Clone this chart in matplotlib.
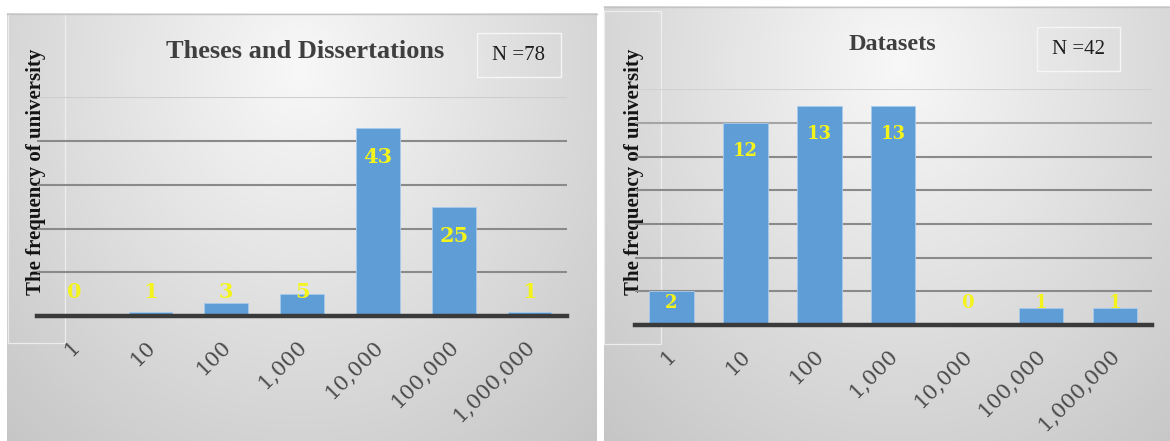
import numpy as np
import matplotlib
matplotlib.use("Agg")
import matplotlib.pyplot as plt
from matplotlib.patches import Rectangle
from matplotlib.transforms import ScaledTranslation

# ---- data -------------------------------------------------------------
size_labels = ["1", "10", "100", "1,000", "10,000", "100,000", "1,000,000"]
theses_counts = [0, 1, 3, 5, 43, 25, 1]
dataset_counts = [2, 12, 13, 13, 0, 1, 1]
theses_title = "Theses and Dissertations"
datasets_title = "Datasets"
theses_n = 78
datasets_n = 42
ylabel_text = "The frequency of university"

# ---- canvas -----------------------------------------------------------
W, H, DPI = 1170, 441, 100
fig = plt.figure(figsize=(W / DPI, H / DPI), dpi=DPI)
fig.patch.set_facecolor("white")

SERIF = ["Liberation Serif", "DejaVu Serif"]
WIDE_SERIF = ["DejaVu Serif"]
BAR_COLOR = "#5f9dd6"
LABEL_YELLOW = "#f4f41c"
TEXT_GRAY = "#3f3f3f"


def px_rect(x0, y0, x1, y1):
    """Pixel box (origin top-left) -> figure-fraction rect."""
    return [x0 / W, 1 - y1 / H, (x1 - x0) / W, (y1 - y0) / H]


# backdrop layer in pixel coordinates
bg = fig.add_axes([0, 0, 1, 1], zorder=0)
bg.axis("off")


def gradient_panel(x0, y0, x1, y1, cx, cy):
    xs = np.arange(x0, x1) + 0.5
    ys = np.arange(y0, y1) + 0.5
    X, Y = np.meshgrid(xs, ys)
    d = np.hypot((X - cx) / 350.0, (Y - cy) / 400.0)
    v = (248 - 52 * np.clip(d / 1.3, 0, 1)) / 255.0
    bg.imshow(np.dstack([v, v, v]), extent=(x0, x1, y1, y0),
              interpolation="bilinear", aspect="auto")
    bg.plot([x0, x1], [y0 + 0.5, y0 + 0.5], color="#c4c4c4", lw=1.0)


gradient_panel(7, 13, 597, 441, 300, 70)
gradient_panel(604, 6, 1170, 441, 900, 65)

# faint outline boxes at the left of each panel
bg.add_patch(Rectangle((7.5, 13.5), 57, 329, fill=False, ec="#f2f2f2", lw=0.9, alpha=0.85))
bg.add_patch(Rectangle((603.5, 10.5), 57, 333, fill=False, ec="#f2f2f2", lw=0.9, alpha=0.85))

bg.set_xlim(0, W)
bg.set_ylim(H, 0)

shift_right = ScaledTranslation(2 / DPI, 0, fig.dpi_scale_trans)


def draw_chart(rect_px, counts, ymax, step, bar_w, lab_off, lab_min,
               lab_size, title, title_xy, title_size, n, nbox, ylab_xy):
    ax = fig.add_axes(px_rect(*rect_px), zorder=2)
    ax.set_facecolor("none")
    x = np.arange(len(counts))
    ax.set_xlim(-0.5, len(counts) - 0.5)
    ax.set_ylim(0, ymax)

    # horizontal gridlines, lighter toward the top of the panel
    for v in np.arange(step, ymax + 0.01, step):
        ypix = H - ax.transData.transform((0, v))[1]
        g = 0.54 + 0.28 * np.clip((140 - ypix) / 45.0, 0, 1)
        ax.axhline(v, color=(g, g, g), lw=1.5, zorder=1)

    ax.bar(x, counts, width=bar_w, color=BAR_COLOR, edgecolor="#a8cbec",
           linewidth=0.6, zorder=2)

    for xi, v in zip(x, counts):
        ax.text(xi, max(v - lab_off, lab_min), str(v), ha="center", va="center",
                color=LABEL_YELLOW, fontsize=lab_size, fontweight="bold",
                family=WIDE_SERIF, zorder=4)

    for s in ("top", "right", "left"):
        ax.spines[s].set_visible(False)
    ax.spines["bottom"].set_color("#3a3a3a")
    ax.spines["bottom"].set_linewidth(3.2)
    ax.spines["bottom"].set_zorder(3)
    ax.set_yticks([])
    ax.set_xticks(x)
    ax.set_xticklabels(size_labels)
    ax.tick_params(axis="x", length=0, pad=20)
    for lab in ax.get_xticklabels():
        lab.set_rotation(45)
        lab.set_ha("right")
        lab.set_va("center")
        lab.set_rotation_mode("anchor")
        lab.set_fontsize(15)
        lab.set_family(WIDE_SERIF)
        lab.set_color("#4a4a4a")
        lab.set_transform(lab.get_transform() + shift_right)

    # title, N box and axis label in pixel coordinates
    bg.text(title_xy[0], title_xy[1], title, ha="center", va="center",
            fontsize=title_size, fontweight="bold", family=SERIF, color=TEXT_GRAY)
    x0, y0, x1, y1 = nbox
    bg.add_patch(Rectangle((x0, y0), x1 - x0, y1 - y0, fill=False,
                           ec="#f6f6f6", lw=1.0))
    bg.text((x0 + x1) / 2, (y0 + y1) / 2 + 1, f"N ={n}", ha="center", va="center",
            fontsize=15, family=SERIF, color="#1e1e1e")
    bg.text(ylab_xy[0], ylab_xy[1], ylabel_text, ha="center", va="center",
            rotation=90, fontsize=15, fontweight="bold", family=SERIF,
            color="#141414", zorder=5)
    return ax


draw_chart((36.8, 97.3, 567.4, 316), theses_counts, 50, 10, 0.58,
           6.63, 5.5, 15, theses_title, (305, 52), 19, theses_n,
           (477, 33, 561, 77), (36.5, 172))
draw_chart((634.5, 89.1, 1152, 325), dataset_counts, 14, 2, 0.6,
           1.66, 1.31, 13, datasets_title, (892, 45), 17.5, datasets_n,
           (1037, 27, 1120, 71), (634, 171.5))

fig.savefig("out.png", dpi=DPI, facecolor="white")
